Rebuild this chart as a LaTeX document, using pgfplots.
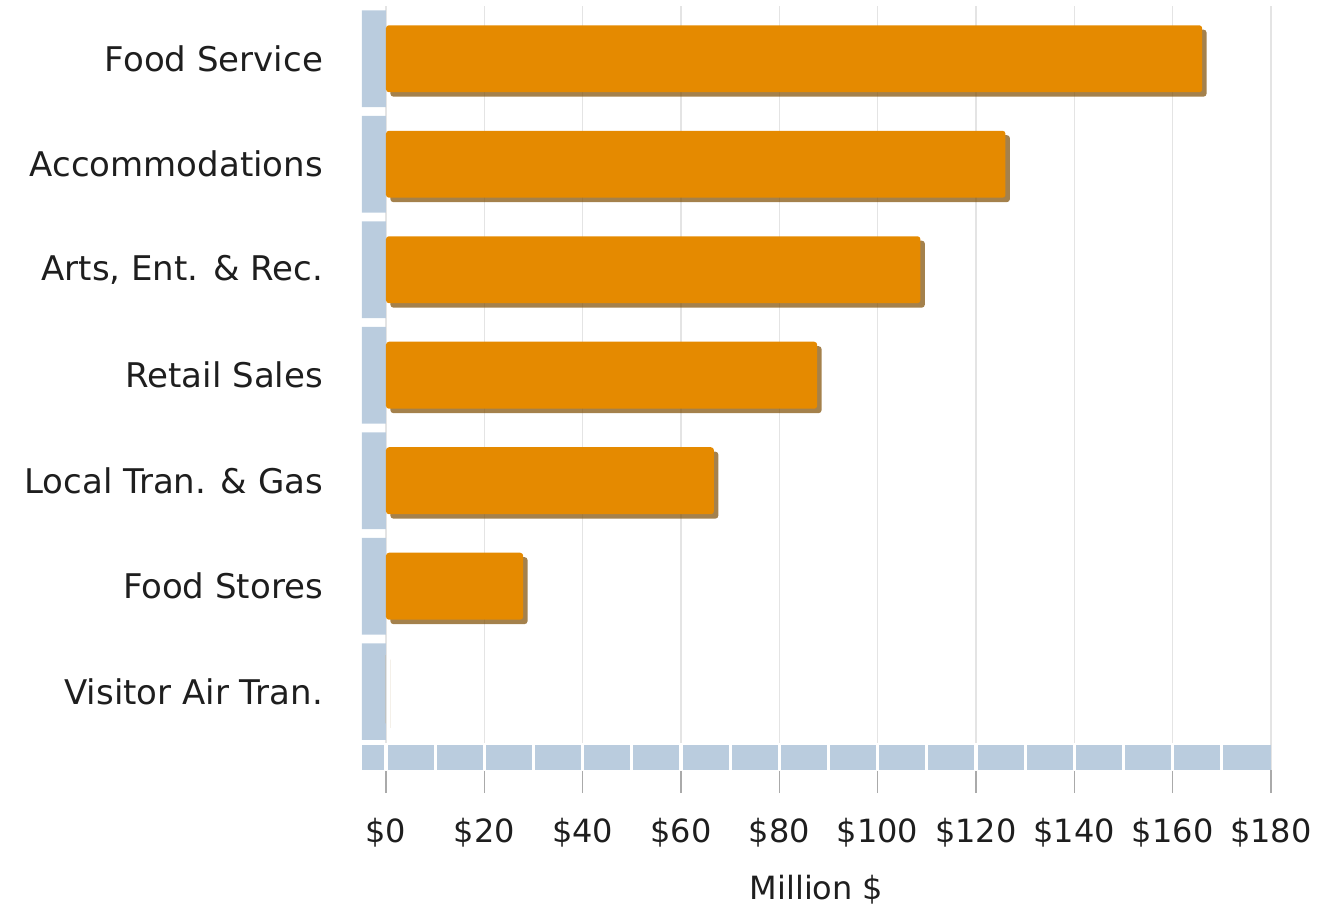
\documentclass[border=0pt]{standalone}
\usepackage{fontspec}
\setmainfont{DejaVu Sans}
\usepackage{pgfplots}
\pgfplotsset{compat=1.18}
\usetikzlibrary{shadows}
\definecolor{barorange}{RGB}{229,138,0}
\definecolor{band}{RGB}{186,204,222}
\definecolor{gridc}{RGB}{228,228,228}
\definecolor{tickc}{RGB}{170,170,170}
\definecolor{txt}{RGB}{30,30,30}
\begin{document}
\begin{tikzpicture}[x=1pt,y=1pt]
\path[use as bounding box] (-181pt,-68pt) rectangle (478pt,385pt);
\begin{axis}[
  scale only axis,
  width=454.5pt, height=382pt,
  xmin=-4.88, xmax=180,
  ymin=-0.5, ymax=6.742,
  y dir=reverse,
  clip=false,
  axis line style={draw=none},
  xtick={0,20,...,180},
  xtick pos=bottom,
  tick align=outside,
  major tick length=11.5pt,
  x tick style={tickc, line width=0.6pt},
  ytick={0,1,2,3,4,5,6},
  yticklabels={Food Service,Accommodations,{Arts, Ent. \& Rec.},Retail Sales,{Local Tran. \& Gas},Food Stores,Visitor Air Tran.},
  y tick style={draw=none},
  y tick label style={font=\fontsize{17}{19}\selectfont, text=txt, anchor=east, xshift=-4.5pt},
  x tick label style={font=\fontsize{16}{18}\selectfont, text=txt, yshift=-9pt},
  xticklabel={\$\pgfmathprintnumber{\tick}},
  /pgf/number format/assume math mode=true,
  xmajorgrids=true,
  grid style={gridc, line width=0.6pt},
  xlabel={Million \$},
  xlabel style={font=\fontsize{16}{18}\selectfont, text=txt, yshift=-7pt},
]
% left band segments
\addplot[xbar, bar width=0.915, fill=band, draw=none] coordinates {
  (-4.88,0) (-4.88,1) (-4.88,2) (-4.88,3) (-4.88,4) (-4.88,5) (-4.88,6)};
% bottom band
\addplot[xbar, bar width=0.232, bar shift=0pt, fill=band, draw=none] coordinates {(180,6.622)};
\addplot[xbar, bar width=0.232, fill=band, draw=none] coordinates {(-4.88,6.622)};
% white gaps in bottom band
\addplot[white, line width=1.6pt, unbounded coords=jump] coordinates {
  (0,6.49) (0,6.75) (0,nan)
  (10,6.49) (10,6.75) (10,nan)
  (20,6.49) (20,6.75) (20,nan)
  (30,6.49) (30,6.75) (30,nan)
  (40,6.49) (40,6.75) (40,nan)
  (50,6.49) (50,6.75) (50,nan)
  (60,6.49) (60,6.75) (60,nan)
  (70,6.49) (70,6.75) (70,nan)
  (80,6.49) (80,6.75) (80,nan)
  (90,6.49) (90,6.75) (90,nan)
  (100,6.49) (100,6.75) (100,nan)
  (110,6.49) (110,6.75) (110,nan)
  (120,6.49) (120,6.75) (120,nan)
  (130,6.49) (130,6.75) (130,nan)
  (140,6.49) (140,6.75) (140,nan)
  (150,6.49) (150,6.75) (150,nan)
  (160,6.49) (160,6.75) (160,nan)
  (170,6.49) (170,6.75)};
% main bars
\addplot[xbar, bar width=0.635, fill=barorange, draw=none, rounded corners=1.5pt,
  drop shadow={shadow xshift=2.2pt, shadow yshift=-2.2pt, fill=black!45!barorange, opacity=0.7}]
  coordinates {(166,0) (126,1) (108.7,2) (87.7,3) (66.7,4) (27.9,5) (0,6)};
\end{axis}
\end{tikzpicture}
\end{document}
